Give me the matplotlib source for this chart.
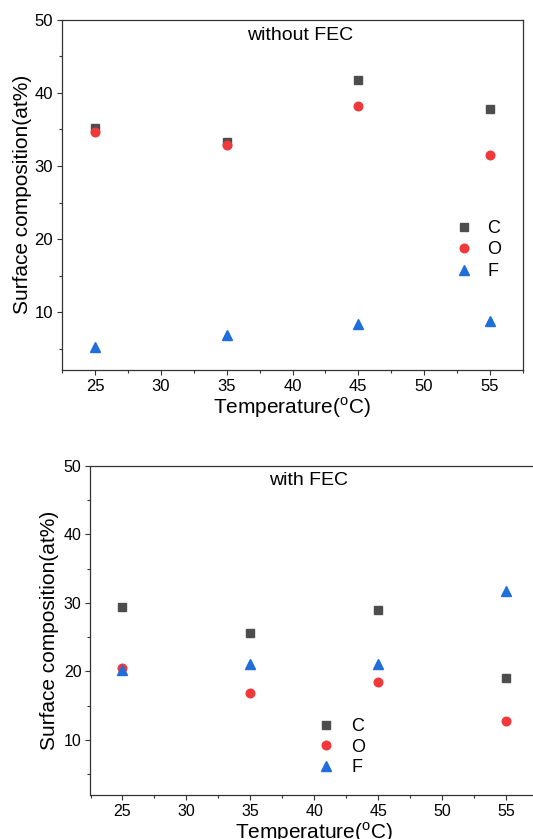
import numpy as np
import matplotlib
matplotlib.use('Agg')
import matplotlib.pyplot as plt
from matplotlib.ticker import MultipleLocator

plt.rcParams['font.family'] = ['Liberation Sans', 'DejaVu Sans']
plt.rcParams['mathtext.fontset'] = 'custom'
plt.rcParams['mathtext.rm'] = 'Liberation Sans'

# data
temps = [25, 35, 45, 55]

C_noFEC = [35.2, 33.3, 41.7, 37.75]
O_noFEC = [34.7, 32.9, 38.25, 31.5]
F_noFEC = [5.3, 6.85, 8.35, 8.8]

C_FEC = [29.4, 25.6, 28.9, 19.1]
O_FEC = [20.5, 16.9, 18.4, 12.7]
F_FEC = [20.2, 21.05, 21.05, 31.7]

CCol = '#4d4d4d'
OCol = '#f0393c'
FCol = '#1f6edb'
spineCol = '#333333'

W, H = 533, 839
fig = plt.figure(figsize=(W / 100, H / 100), dpi=100)

# top panel (without FEC)
ax1 = fig.add_axes([62.2 / W, (H - 370) / H, (522.8 - 62.2) / W, (370 - 19.7) / H])
# bottom panel (with FEC), right edge runs off the figure
ax2 = fig.add_axes([90.5 / W, (H - 794.7) / H, (538 - 90.5) / W, (794.7 - 466) / H])


def style(ax, ylo, fs_tick, ypad):
    ax.set_xlim(22.5, 57.5)
    ax.set_ylim(ylo, 50)
    ax.xaxis.set_major_locator(MultipleLocator(5))
    ax.xaxis.set_minor_locator(MultipleLocator(2.5))
    ax.yaxis.set_major_locator(MultipleLocator(10))
    ax.yaxis.set_minor_locator(MultipleLocator(5))
    ax.tick_params(which='both', direction='out', top=False, right=False,
                   colors=spineCol, labelcolor='black', labelsize=fs_tick, width=0.8)
    ax.tick_params(which='major', length=3.5, pad=3)
    ax.tick_params(which='minor', length=2.2)
    for s in ax.spines.values():
        s.set_color(spineCol)
        s.set_linewidth(0.9)
    ax.set_xlabel('Temperature($^{\\mathrm{o}}$C)', fontsize=15, labelpad=1)
    ax.set_ylabel('Surface composition(at%)', fontsize=15, labelpad=ypad)


def draw(ax, C, O, F):
    c = ax.plot(temps, C, ls='none', marker='s', ms=5.6, color=CCol, label='C')
    o = ax.plot(temps, O, ls='none', marker='o', ms=6.2, color=OCol, label='O')
    f = ax.plot(temps, F, ls='none', marker='^', ms=7, color=FCol, label='F')
    return c[0], o[0], f[0]


style(ax1, 2.1, 12, 2)
style(ax2, 2.0, 11.5, 3)

h1 = draw(ax1, C_noFEC, O_noFEC, F_noFEC)
h2 = draw(ax2, C_FEC, O_FEC, F_FEC)

ax1.text(0.517, 0.955, 'without FEC', transform=ax1.transAxes, ha='center', va='center', fontsize=14)
ax2.text(0.487, 0.955, 'with FEC', transform=ax2.transAxes, ha='center', va='center', fontsize=14)

leg1 = ax1.legend(handles=list(h1), loc='center', bbox_to_anchor=(0.903, 0.343),
                  frameon=False, fontsize=13, handlelength=1.0, handletextpad=0.8,
                  labelspacing=0.25)
leg2 = ax2.legend(handles=list(h2), loc='center', bbox_to_anchor=(0.56, 0.145),
                  frameon=False, fontsize=13, handlelength=1.0, handletextpad=0.9,
                  labelspacing=0.2)

fig.savefig('out.png', dpi=100)
